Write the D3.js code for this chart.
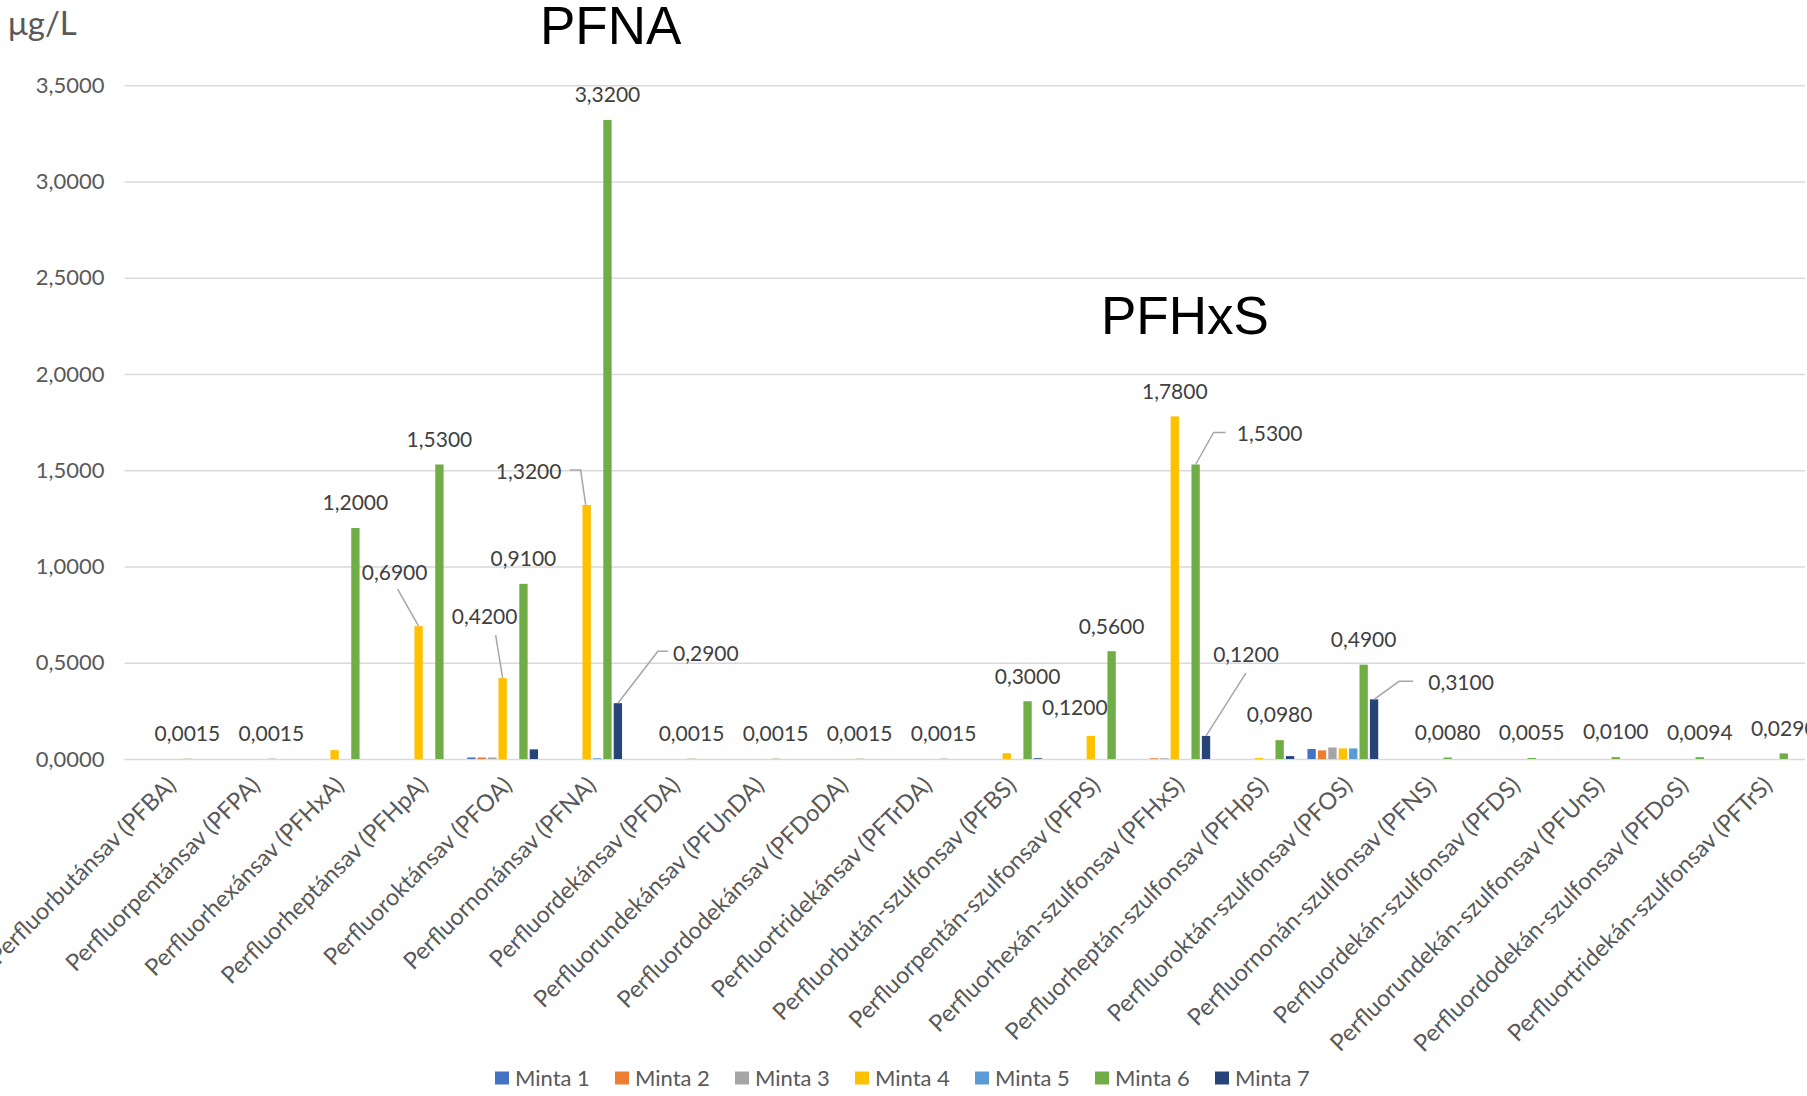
<!DOCTYPE html>
<html>
<head>
<meta charset="utf-8">
<script src="https://cdn.jsdelivr.net/npm/d3@7"></script>
<style>
body { margin: 0; background: #fff; }
svg { display: block; }
</style>
</head>
<body>
<svg id="chart" width="1807" height="1096"></svg>
<script>
// chart data
var categories = [
  "Perfluorbutánsav (PFBA)", "Perfluorpentánsav (PFPA)", "Perfluorhexánsav (PFHxA)",
  "Perfluorheptánsav (PFHpA)", "Perfluoroktánsav (PFOA)", "Perfluornonánsav (PFNA)",
  "Perfluordekánsav (PFDA)", "Perfluorundekánsav (PFUnDA)", "Perfluordodekánsav (PFDoDA)",
  "Perfluortridekánsav (PFTrDA)", "Perfluorbután-szulfonsav (PFBS)", "Perfluorpentán-szulfonsav (PFPS)",
  "Perfluorhexán-szulfonsav (PFHxS)", "Perfluorheptán-szulfonsav (PFHpS)", "Perfluoroktán-szulfonsav (PFOS)",
  "Perfluornonán-szulfonsav (PFNS)", "Perfluordekán-szulfonsav (PFDS)", "Perfluorundekán-szulfonsav (PFUnS)",
  "Perfluordodekán-szulfonsav (PFDoS)", "Perfluortridekán-szulfonsav (PFTrS)"
];
var seriesNames = ["Minta 1", "Minta 2", "Minta 3", "Minta 4", "Minta 5", "Minta 6", "Minta 7"];
var colors = ["#4472C4", "#ED7D31", "#A5A5A5", "#FFC000", "#5B9BD5", "#70AD47", "#264478"];

var minta1 = [0, 0, 0, 0, 0.008, 0, 0, 0, 0, 0, 0, 0, 0, 0, 0.052, 0, 0, 0, 0, 0];
var minta2 = [0, 0, 0, 0, 0.008, 0, 0, 0, 0, 0, 0, 0, 0.004, 0, 0.045, 0, 0, 0, 0, 0];
var minta3 = [0, 0, 0, 0, 0.008, 0, 0, 0, 0, 0, 0, 0, 0.004, 0, 0.06, 0, 0, 0, 0, 0];
var minta4 = [0, 0, 0.046, 0.69, 0.42, 1.32, 0, 0, 0, 0, 0.03, 0.12, 1.78, 0.005, 0.055, 0, 0, 0, 0, 0];
var minta5 = [0, 0, 0, 0, 0, 0.004, 0, 0, 0, 0, 0, 0, 0, 0, 0.055, 0, 0, 0, 0, 0];
var minta6 = [0.0015, 0.0015, 1.2, 1.53, 0.91, 3.32, 0.0015, 0.0015, 0.0015, 0.0015, 0.3, 0.56, 1.53, 0.098, 0.49, 0.008, 0.0055, 0.01, 0.0094, 0.029];
var minta7 = [0, 0, 0, 0, 0.05, 0.29, 0, 0, 0, 0, 0.004, 0, 0.12, 0.015, 0.31, 0, 0, 0, 0, 0];
var allSeries = [minta1, minta2, minta3, minta4, minta5, minta6, minta7];

var yTicks = [0, 0.5, 1, 1.5, 2, 2.5, 3, 3.5];

// which points carry a value label: [category index, series index]
var labelled = [];
minta6.forEach(function(v, i) { labelled.push([i, 5]); });
[3, 4, 5, 11, 12].forEach(function(i) { labelled.push([i, 3]); });
[5, 12, 14].forEach(function(i) { labelled.push([i, 6]); });

// moved labels (pixel offsets from the bar top), with leader lines
var callouts = [
  { c: 3, s: 3, dx: -24, dy: -54, leader: [[-21, -37], [0, 0]] },
  { c: 4, s: 3, dx: -18, dy: -62, leader: [[-7, -43], [0, 0]] },
  { c: 5, s: 3, dx: -58, dy: -33, leader: [[-17, -35], [-6, -35], [-1, 0]] },
  { c: 5, s: 6, dx: 88, dy: -50, leader: [[50, -52], [40, -52], [0, 0]] },
  { c: 12, s: 5, dx: 74, dy: -31, leader: [[30, -32], [18, -32], [0, 0]] },
  { c: 12, s: 6, dx: 40, dy: -81, leader: [[40, -63], [0, 0]] },
  { c: 14, s: 6, dx: 87, dy: -17, leader: [[39, -18], [25, -18], [0, 0]] },
  { c: 11, s: 3, dx: -16, dy: -28, leader: null }
];

var plotLeft = 124.5, plotRight = 1805, plotTop = 85.3, plotBottom = 759;
var labelFont = "Lato, 'Open Sans', sans-serif";

var svg = d3.select("#chart");

var locale = d3.formatLocale({ decimal: ",", thousands: " ", grouping: [3], currency: ["", ""] });
var fmt = locale.format(".4f");

var y = d3.scaleLinear().domain([0, 3.5]).range([plotBottom, plotTop]);
var x0 = d3.scaleBand().domain(d3.range(categories.length)).range([plotLeft, plotRight])
  .paddingInner(0.133).paddingOuter(0.067);
var x1 = d3.scaleBand().domain(d3.range(seriesNames.length)).range([0, x0.bandwidth()])
  .paddingInner(0.2).paddingOuter(0.1);

// y axis + gridlines
var yAxis = svg.append("g")
  .attr("transform", "translate(" + plotLeft + ",0)")
  .call(d3.axisLeft(y).tickValues(yTicks).tickFormat(fmt).tickSize(-(plotRight - plotLeft)).tickPadding(20));
yAxis.select(".domain").remove();
yAxis.selectAll(".tick line").attr("stroke", "#D9D9D9").attr("stroke-width", 1.5);
yAxis.selectAll(".tick text")
  .attr("fill", "#595959")
  .style("font-family", labelFont)
  .style("font-size", "22px");

// x axis labels
var xAxis = svg.append("g")
  .attr("transform", "translate(0," + plotBottom + ")")
  .call(d3.axisBottom(x0).tickSize(0).tickFormat(function(i) { return categories[i]; }));
xAxis.select(".domain").remove();
xAxis.selectAll(".tick text")
  .attr("fill", "#595959")
  .style("font-family", labelFont)
  .style("font-size", "23.5px")
  .attr("text-anchor", "end")
  .attr("dy", "0.35em")
  .attr("y", 0)
  .attr("transform", "translate(5,22) rotate(-45)");

// bars
var groups = svg.append("g").selectAll("g")
  .data(allSeries)
  .join("g")
  .attr("fill", function(d, s) { return colors[s]; });

groups.selectAll("rect")
  .data(function(d, s) { return d.map(function(v, i) { return { v: v, i: i, s: s }; }); })
  .join("rect")
  .attr("x", function(d) { return x0(d.i) + x1(d.s); })
  .attr("width", x1.bandwidth())
  .attr("y", function(d) { return y(d.v); })
  .attr("height", function(d) { return y(0) - y(d.v); });

function barX(i, s) { return x0(i) + x1(s) + x1.bandwidth() / 2; }
function calloutFor(i, s) {
  return callouts.find(function(c) { return c.c === i && c.s === s; });
}

// leader lines
var line = d3.line();
callouts.filter(function(c) { return c.leader; }).forEach(function(c) {
  var bx = barX(c.c, c.s), by = y(allSeries[c.s][c.c]);
  svg.append("path")
    .attr("d", line(c.leader.map(function(p) { return [bx + p[0], by + p[1]]; })))
    .attr("fill", "none")
    .attr("stroke", "#A6A6A6")
    .attr("stroke-width", 1.5);
});

// value labels
svg.append("g").selectAll("text")
  .data(labelled)
  .join("text")
  .attr("x", function(d) {
    var c = calloutFor(d[0], d[1]);
    return barX(d[0], d[1]) + (c ? c.dx : 0);
  })
  .attr("y", function(d) {
    var c = calloutFor(d[0], d[1]);
    return y(allSeries[d[1]][d[0]]) + (c ? c.dy : -25);
  })
  .attr("dy", "0.35em")
  .attr("text-anchor", "middle")
  .attr("fill", "#404040")
  .style("font-family", labelFont)
  .style("font-size", "21px")
  .text(function(d) { return fmt(allSeries[d[1]][d[0]]); });

// unit and titles
svg.append("text").attr("x", 8).attr("y", 35)
  .attr("fill", "#595959").style("font-family", labelFont).style("font-size", "33px")
  .text("μg/L");
svg.append("text").attr("x", 540).attr("y", 44)
  .attr("fill", "#000").style("font-family", "'Liberation Sans', Arial, sans-serif").style("font-size", "53px")
  .text("PFNA");
svg.append("text").attr("x", 1101).attr("y", 334)
  .attr("fill", "#000").style("font-family", "'Liberation Sans', Arial, sans-serif").style("font-size", "53px")
  .text("PFHxS");

// legend
var legend = svg.append("g").selectAll("g")
  .data(seriesNames)
  .join("g")
  .attr("transform", function(d, s) { return "translate(" + (495 + s * 120) + ",1078)"; });
legend.append("rect").attr("x", 0).attr("y", -6.5).attr("width", 14).attr("height", 13)
  .attr("fill", function(d, s) { return colors[s]; });
legend.append("text").attr("x", 20).attr("dy", "0.35em")
  .attr("fill", "#595959").style("font-family", labelFont).style("font-size", "22px")
  .text(function(d) { return d; });
</script>
</body>
</html>
